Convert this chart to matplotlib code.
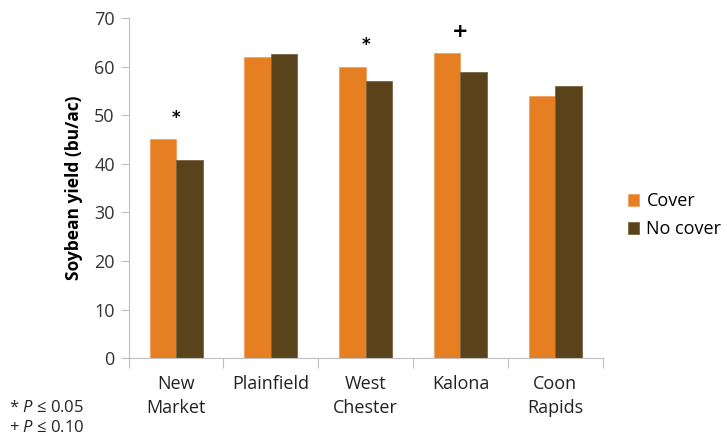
import numpy as np
import matplotlib
matplotlib.use("Agg")
import matplotlib.pyplot as plt

sites = ["New\nMarket", "Plainfield", "West\nChester", "Kalona", "Coon\nRapids"]
cover = [45.1, 62.0, 60.0, 62.9, 54.0]
no_cover = [40.7, 62.7, 57.0, 58.9, 56.0]
marks = ["*", "", "*", "+", ""]

plt.rcParams['font.family'] = ['Open Sans', 'DejaVu Sans']
plt.rcParams['mathtext.fontset'] = 'custom'
plt.rcParams['mathtext.it'] = 'Open Sans:italic'
plt.rcParams['mathtext.rm'] = 'Open Sans'

fig = plt.figure(figsize=(7.27, 4.41), dpi=100)
ax = fig.add_axes([0.177, 0.188, 0.652, 0.771])

x = np.arange(len(sites))
w = 0.28
ax.bar(x - w / 2, cover, w, color="#E67E22", edgecolor="#F0A060", linewidth=0.6, label="Cover")
ax.bar(x + w / 2, no_cover, w, color="#5A431B", edgecolor="#7A6440", linewidth=0.6, label="No cover")

for i, m in enumerate(marks):
    if m:
        top = max(cover[i], no_cover[i])
        ax.text(x[i], top + 4.4, m, ha="center", va="center",
                fontsize=12 if m == "*" else 14, fontweight="bold", family="DejaVu Sans")

ax.set_xlim(-0.5, len(sites) - 0.5)
ax.set_ylim(0, 70)
ax.set_yticks(range(0, 71, 10))
ax.set_xticks(np.arange(-0.5, len(sites), 1.0), minor=False)
ax.set_xticklabels([])
ax.set_xticks(x, minor=True)
ax.set_xticklabels(sites, minor=True, fontsize=13, color="#222222", linespacing=1.45)
ax.tick_params(axis="x", which="minor", length=0, pad=12)
ax.tick_params(axis="x", which="major", length=7, color="#BFBFBF")
ax.tick_params(axis="y", length=6, color="#BFBFBF", labelsize=13, labelcolor="#333333", pad=4)

for s in ["top", "right"]:
    ax.spines[s].set_visible(False)
for s in ["left", "bottom"]:
    ax.spines[s].set_color("#BFBFBF")

ax.set_ylabel("Soybean yield (bu/ac)", fontsize=12.5, fontweight="bold", labelpad=8)

ax.legend(loc="center left", bbox_to_anchor=(1.02, 0.42), frameon=False, fontsize=13,
          handlelength=0.6, handleheight=0.6, handletextpad=0.4, labelspacing=0.55)

fig.text(0.012, 0.066, "* $P$ \u2264 0.05", fontsize=12, color="#222222")
fig.text(0.012, 0.020, "+ $P$ \u2264 0.10", fontsize=12, color="#222222")

fig.savefig("out.png", dpi=100)
